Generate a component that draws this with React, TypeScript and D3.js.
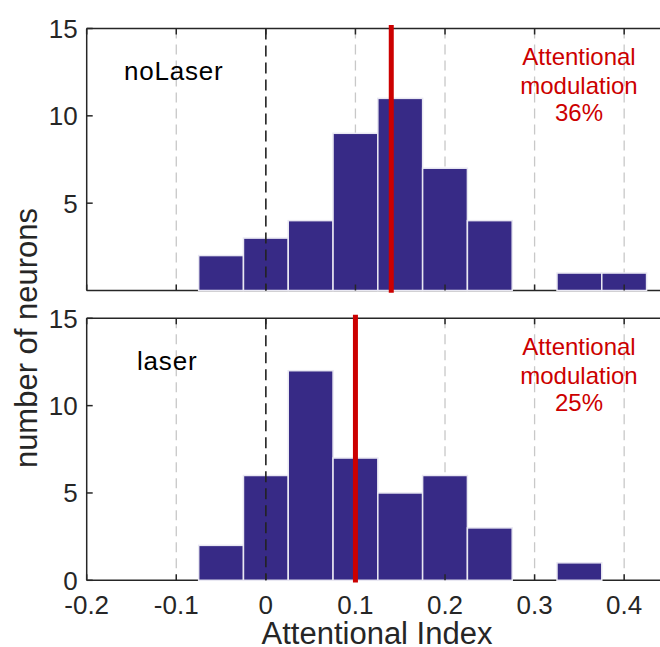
import React from "react";
import * as d3 from "d3";

// histogram bin edges (attentional index), bin width 0.05
const binEdges = [-0.075, -0.025, 0.025, 0.075, 0.125, 0.175, 0.225, 0.275, 0.325, 0.375, 0.425];
const noLaserCounts = [2, 3, 4, 9, 11, 7, 4, 0, 1, 1];
const laserCounts = [2, 6, 12, 7, 5, 6, 3, 0, 1, 0];

const conditions = ["noLaser", "laser"];
const meanIndex = [0.14, 0.1];
const modulation = ["36%", "25%"];

const xTicks = [-0.2, -0.1, 0, 0.1, 0.2, 0.3, 0.4];
const xTickLabels = ["-0.2", "-0.1", "0", "0.1", "0.2", "0.3", "0.4"];
const yTicksTop = [5, 10, 15];
const yTicksBottom = [0, 5, 10, 15];

const width = 660;
const height = 647;
const margin = { left: 86.7, right: 0 };
const panelHeight = 262;
const panelTops = [28.5, 318.3];
const nameX = [124, 137];

const font = "'Liberation Sans', Arial, Helvetica, sans-serif";
const axisColor = "#262626";
const barColor = "#372A86";
const red = "#CC0000";

const xScale = d3
  .scaleLinear()
  .domain([-0.2, 0.44])
  .range([margin.left, width - margin.right]);

type PanelProps = {
  top: number;
  counts: number[];
  mean: number;
  name: string;
  nx: number;
  pct: string;
  yTicks: number[];
  showXLabels: boolean;
};

function Panel({ top, counts, mean, name, nx, pct, yTicks, showXLabels }: PanelProps) {
  const yScale = d3
    .scaleLinear()
    .domain([0, 15])
    .range([top + panelHeight, top]);
  const bottom = top + panelHeight;
  const x0 = xScale.range()[0];
  const x1 = xScale.range()[1];

  const bins = counts.map((c, i) => ({ c, lo: binEdges[i], hi: binEdges[i + 1] }));

  return (
    <g>
      {/* gray grid */}
      {xTicks
        .filter(t => t !== 0 && t !== -0.2)
        .map(t => (
          <line
            key={"g" + t}
            x1={xScale(t)}
            x2={xScale(t)}
            y1={top}
            y2={bottom}
            stroke="#C8C8C8"
            strokeWidth={1.3}
            strokeDasharray="10,6"
          />
        ))}
      {/* axes */}
      <line x1={x0} x2={x1} y1={top} y2={top} stroke={axisColor} strokeWidth={1.5} />
      <line x1={x0} x2={x1} y1={bottom} y2={bottom} stroke={axisColor} strokeWidth={1.5} />
      <line x1={x0} x2={x0} y1={top} y2={bottom} stroke={axisColor} strokeWidth={1.5} />
      {/* bars */}
      {bins
        .filter(b => b.c > 0)
        .map(b => (
          <rect
            key={"b" + b.lo}
            x={xScale(b.lo)}
            y={yScale(b.c)}
            width={xScale(b.hi) - xScale(b.lo)}
            height={yScale(0) - yScale(b.c)}
            fill={barColor}
            stroke="#E9E8F2"
            strokeWidth={1.5}
          />
        ))}
      {/* zero line */}
      <line
        x1={xScale(0)}
        x2={xScale(0)}
        y1={top}
        y2={bottom}
        stroke="#222"
        strokeWidth={1.6}
        strokeDasharray="11,6"
      />
      {/* x ticks (inward, top and bottom) */}
      {xTicks.map(t => (
        <g key={"t" + t}>
          <line x1={xScale(t)} x2={xScale(t)} y1={top} y2={top + 6} stroke={axisColor} strokeWidth={1.5} />
          <line x1={xScale(t)} x2={xScale(t)} y1={bottom} y2={bottom - 6} stroke={axisColor} strokeWidth={1.5} />
        </g>
      ))}
      {/* y ticks */}
      {yTicks.map(t => (
        <g key={"y" + t}>
          <line x1={x0} x2={x0 + 6} y1={yScale(t)} y2={yScale(t)} stroke={axisColor} strokeWidth={1.5} />
          <text
            x={x0 - 9}
            y={yScale(t)}
            dy="0.36em"
            textAnchor="end"
            fontSize={26}
            fill={axisColor}
          >
            {t}
          </text>
        </g>
      ))}
      {/* mean line */}
      <line
        x1={xScale(mean)}
        x2={xScale(mean)}
        y1={yScale(15.2)}
        y2={yScale(-0.13)}
        stroke={red}
        strokeWidth={5}
      />
      {showXLabels &&
        xTicks.map((t, i) => (
          <text
            key={"xl" + t}
            x={xScale(t)}
            y={bottom + 34}
            textAnchor="middle"
            fontSize={26}
            fill={axisColor}
          >
            {xTickLabels[i]}
          </text>
        ))}
      <text x={nx} y={top + 51.5} fontSize={26} letterSpacing={0.8} fill="#000">
        {name}
      </text>
      <g fill={red} fontSize={24} textAnchor="middle">
        <text x={579} y={top + 36.5}>Attentional</text>
        <text x={579} y={top + 65.5}>modulation</text>
        <text x={579} y={top + 92.5}>{pct}</text>
      </g>
    </g>
  );
}

export default function App() {
  const counts = [noLaserCounts, laserCounts];
  return (
    <svg
      width={width}
      height={height}
      style={{ position: "absolute", left: 0, top: 0, background: "#fff" }}
      fontFamily={font}
    >
      {conditions.map((c, i) => (
        <Panel
          key={c}
          top={panelTops[i]}
          counts={counts[i]}
          mean={meanIndex[i]}
          name={c}
          nx={nameX[i]}
          pct={modulation[i]}
          yTicks={i === 0 ? yTicksTop : yTicksBottom}
          showXLabels={i === 1}
        />
      ))}
      <text x={377} y={644} textAnchor="middle" fontSize={31} fill={axisColor}>
        Attentional Index
      </text>
      <text
        transform="translate(37, 338) rotate(-90)"
        textAnchor="middle"
        fontSize={31}
        fill={axisColor}
      >
        number of neurons
      </text>
    </svg>
  );
}
